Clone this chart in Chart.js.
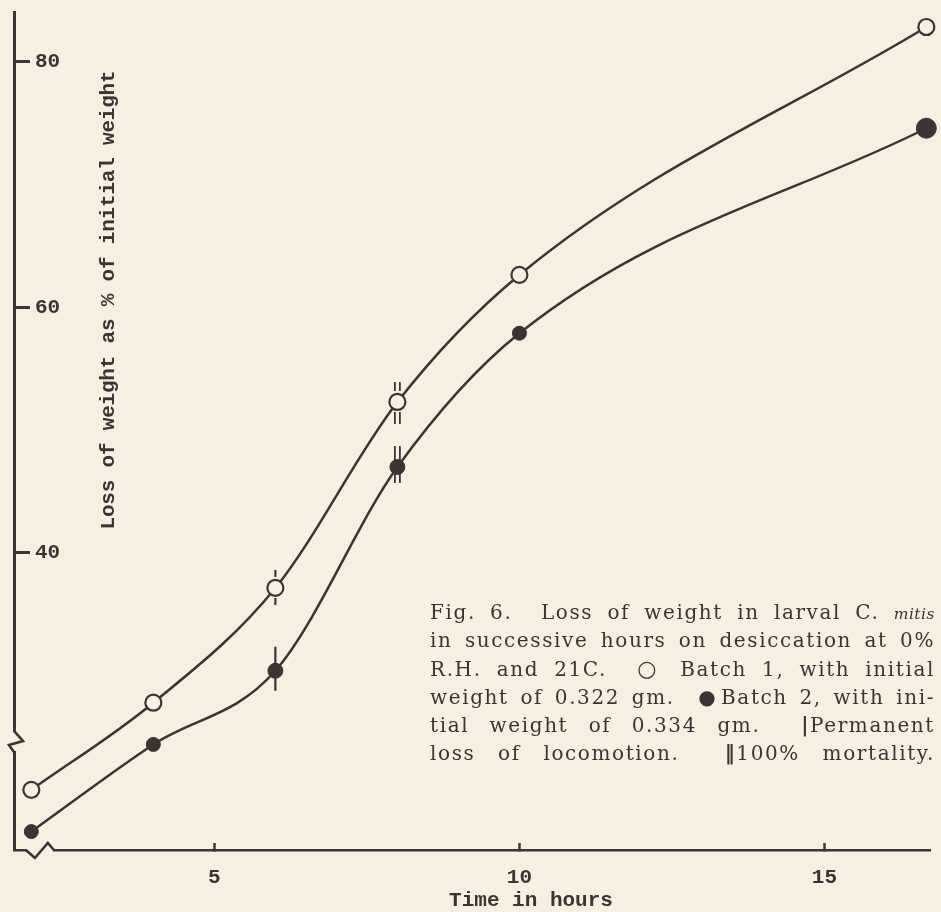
<!DOCTYPE html>
<html>
<head>
<meta charset="utf-8">
<script src="https://cdn.jsdelivr.net/npm/chart.js@4.4.0/dist/chart.umd.min.js"></script>
<style>
  html, body { margin: 0; padding: 0; background: #f5f0e0; }
  #wrap { position: relative; width: 941px; height: 912px; overflow: hidden; }
  #chart { position: absolute; left: 0; top: 0; }
  #yTitle {
    position: absolute; left: -120px; top: 287px; width: 460px; height: 26px;
    line-height: 26px; text-align: center; transform: rotate(-90deg);
    font: bold 21px "Liberation Mono", monospace; letter-spacing: -0.2px; color: #3b3433; white-space: nowrap;
  }
  #xTitle {
    position: absolute; left: 431px; top: 889px; width: 200px; height: 26px;
    line-height: 26px; text-align: center;
    font: bold 21px "Liberation Mono", monospace; color: #3b3433; white-space: nowrap;
  }
  #caption {
    position: absolute; left: 430px; top: 598px; width: 505px;
    font: 20px "DejaVu Serif", serif; color: #3b3433; letter-spacing: 1.6px;
  }
  #caption div { height: 28.3px; line-height: 28.3px; text-align: justify; text-align-last: justify; white-space: nowrap; }
  #caption i { font-size: 15.5px; letter-spacing: 0.5px; }
  #caption .sym { font-size: 22px; }
</style>
</head>
<body>
<div id="wrap">
  <canvas id="chart" width="941" height="912"></canvas>
  <div id="yTitle">Loss of weight as % of initial weight</div>
  <div id="xTitle">Time in hours</div>
  <div id="caption">
    <div>Fig. 6.&nbsp; Loss of weight in larval C. <i>mitis</i></div>
    <div>in successive hours on desiccation at 0%</div>
    <div>R.H. and 21C.&nbsp; <span class="sym">○</span> Batch 1, with initial</div>
    <div>weight of 0.322 gm.&nbsp; ●Batch 2, with ini-</div>
    <div>tial weight of 0.334 gm.&nbsp; <b>|</b>Permanent</div>
    <div>loss of locomotion.&nbsp; <b>‖</b>100% mortality.</div>
  </div>
</div>
<script>
// hours of desiccation and % weight loss
const hours = [2, 4, 6, 8, 10, 16.67];
const batch1 = [20.7, 27.8, 37.15, 52.3, 62.65, 82.85];
const batch2 = [17.3, 24.4, 30.4, 47.0, 57.9, 74.6];
const xTickValues = [5, 10, 15];
const yTickValues = [40, 60, 80];

// which reading carries the "loss of locomotion" / "100% mortality" marks
const locomotionIdx = 2;
const mortalityIdx = 3;

// where the axes are drawn broken
const yBreakValue = 24.6;
const xBreakValue = 2.14;

const ink = '#3b3433';
const paper = '#f5f0e0';

function toPoints(values) {
    return hours.map((h, i) => ({ x: h, y: values[i] }));
}

// short vertical bars through a point (single or double)
function bars(ctx, p, gaps, double) {
    const xs = double ? [p.x - 2.5, p.x + 2.5] : [p.x];
    xs.forEach(x => {
        gaps.forEach(([a, b]) => {
            ctx.beginPath();
            ctx.moveTo(x, p.y + a);
            ctx.lineTo(x, p.y + b);
            ctx.stroke();
        });
    });
}

function noPadding(s) {
    s.paddingTop = 0;
    s.paddingBottom = 0;
    s.paddingLeft = 0;
    s.paddingRight = 0;
}

const extrasPlugin = {
    id: 'extras',
    afterDatasetsDraw(chart) {
        const ctx = chart.ctx;
        const open = chart.getDatasetMeta(0).data;
        const filled = chart.getDatasetMeta(1).data;
        ctx.save();
        ctx.strokeStyle = ink;
        ctx.lineWidth = 2.2;
        bars(ctx, open[locomotionIdx], [[-18, -11], [10, 17]], false);
        bars(ctx, filled[locomotionIdx], [[-24, 20]], false);
        ctx.lineWidth = 1.8;
        bars(ctx, open[mortalityIdx], [[-20, -11], [10, 22]], true);
        bars(ctx, filled[mortalityIdx], [[-21, 16]], true);
        ctx.restore();
    },
    afterDraw(chart) {
        const ctx = chart.ctx;
        const area = chart.chartArea;
        const py = chart.scales.y.getPixelForValue(yBreakValue);
        const px = chart.scales.x.getPixelForValue(xBreakValue);
        const L = area.left, B = area.bottom;
        ctx.save();
        ctx.fillStyle = paper;
        ctx.fillRect(L - 3, py - 10, 6, 19);
        ctx.fillRect(px - 13, B - 3, 26, 6);
        ctx.strokeStyle = ink;
        ctx.lineWidth = 2.6;
        ctx.lineJoin = 'miter';
        ctx.beginPath();
        ctx.moveTo(L, py - 11);
        ctx.lineTo(L + 9, py - 1);
        ctx.lineTo(L - 5, py + 3);
        ctx.lineTo(L, py + 10);
        ctx.stroke();
        ctx.beginPath();
        ctx.moveTo(px - 14, B);
        ctx.lineTo(px - 5, B + 8);
        ctx.lineTo(px + 8, B - 7);
        ctx.lineTo(px + 14, B);
        ctx.stroke();
        ctx.restore();
    }
};

const tickFont = { family: 'Liberation Mono', size: 21, weight: 'bold' };

new Chart(document.getElementById('chart'), {
    type: 'line',
    data: {
        datasets: [
            {
                label: 'Batch 1',
                data: toPoints(batch1),
                borderColor: ink,
                borderWidth: 2.5,
                pointRadius: 8,
                pointBorderWidth: 2.2,
                pointBorderColor: ink,
                pointBackgroundColor: paper,
                cubicInterpolationMode: 'monotone',
                clip: false
            },
            {
                label: 'Batch 2',
                data: toPoints(batch2),
                borderColor: ink,
                borderWidth: 2.5,
                pointRadius: [7, 7, 7.5, 7.5, 7, 10],
                pointBorderWidth: 1,
                pointBorderColor: ink,
                pointBackgroundColor: ink,
                cubicInterpolationMode: 'monotone',
                clip: false
            }
        ]
    },
    options: {
        responsive: false,
        animation: false,
        devicePixelRatio: 1,
        events: [],
        layout: { padding: { top: 12, right: 8, left: 0, bottom: 0 } },
        plugins: { legend: { display: false }, tooltip: { enabled: false } },
        scales: {
            x: {
                type: 'linear',
                min: 1.716,
                max: 16.73,
                afterBuildTicks: s => { s.ticks = xTickValues.map(v => ({ value: v })); },
                afterFit: s => { s.height = 62; noPadding(s); },
                border: { display: true, color: ink, width: 2.5 },
                grid: { drawOnChartArea: false, drawTicks: true, tickLength: -7, tickWidth: 2.5, tickColor: ink },
                ticks: { color: ink, font: tickFont, padding: 22, maxRotation: 0 }
            },
            y: {
                type: 'linear',
                min: 15.8,
                max: 84.07,
                afterBuildTicks: s => { s.ticks = yTickValues.map(v => ({ value: v })); },
                afterFit: s => { s.width = 14; noPadding(s); },
                border: { display: true, color: ink, width: 3 },
                grid: { drawOnChartArea: false, drawTicks: true, tickLength: -16, tickWidth: 3, tickColor: ink },
                ticks: { color: ink, font: tickFont, mirror: true, padding: 21 }
            }
        }
    },
    plugins: [extrasPlugin]
});
</script>
</body>
</html>
